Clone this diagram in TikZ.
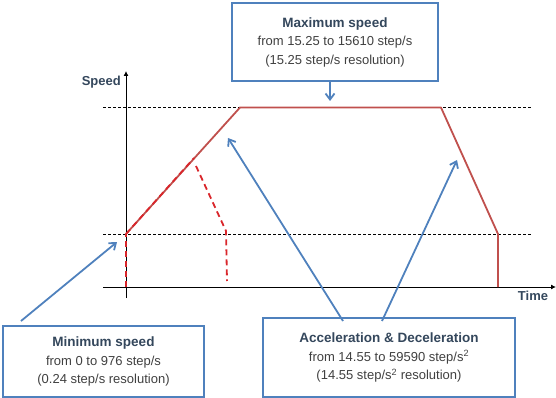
\documentclass[tikz,border=0pt]{standalone}
\usepackage{fontspec}
\setmainfont{Liberation Sans}
\usetikzlibrary{arrows.meta}
\definecolor{boxblue}{HTML}{4F81BD}
\definecolor{titlecol}{HTML}{34475C}
\definecolor{bodycol}{HTML}{404040}
\definecolor{profred}{HTML}{C0504D}
\definecolor{dashred}{HTML}{D9262B}
\tikzset{
  infobox/.style={draw=boxblue, line width=1.6pt, fill=white, align=center, inner sep=0pt,
    font=\fontsize{13}{18.5}\selectfont, text=bodycol},
  pointer/.style={draw=boxblue, line width=1.8pt, -{Straight Barb[length=6pt,width=9pt]}},
  axis/.style={draw=black, line width=0.9pt, -{Latex[length=5pt,width=5pt]}},
  level/.style={draw=black, line width=0.6pt, dash pattern=on 3pt off 2pt},
  profile/.style={draw=profred, line width=1.8pt, line join=round},
  altprofile/.style={draw=dashred, line width=1.8pt, dash pattern=on 6pt off 4pt},
  axlabel/.style={font=\fontsize{13}{15}\selectfont\bfseries, text=titlecol, inner sep=0pt},
}
\newcommand{\ttl}[1]{{\fontsize{13.5}{18.5}\selectfont\bfseries\color{titlecol}#1}}
\begin{document}
\begin{tikzpicture}[x=1pt,y=-1pt]
\useasboundingbox (0,0) rectangle (556,398);
% levels
\draw[level] (103,107.5) -- (532,107.5);
\draw[level] (103,234) -- (532,234);
% axes
\coordinate (yb) at (126,298);
\coordinate (yt) at (126,71);
\coordinate (xl) at (103,287);
\coordinate (xr) at (556,287);
\draw[axis] (yb) -- (yt);
\draw[axis] (xl) -- (xr);
\node[axlabel, anchor=east] (speedlbl) at (121,82) {Speed};
\node[axlabel] (timelbl) at (533,296) {Time};
% profile
\coordinate (p0) at (126,287);
\coordinate (p1) at (126,234);
\coordinate (p2) at (240,107.5);
\coordinate (p3) at (441,107.5);
\coordinate (p4) at (498,234);
\coordinate (p5) at (498,287);
\draw[profile] (p1) -- (p2) -- (p3) -- (p4) -- (p5);
\coordinate (q0) at (194,158);
\coordinate (q1) at (196,166);
\coordinate (q2) at (226,231);
\coordinate (q3) at (227,281);
\draw[altprofile] (p0) -- (p1);
\draw[altprofile] (p1) -- (q0);
\draw[altprofile] (q1) -- (q2) -- (q3);
% boxes
\node[infobox, minimum width=206pt, minimum height=78pt] (maxbox) at (335,42)
  {\ttl{Maximum speed}\\from 15.25 to 15610 step/s\\(15.25 step/s resolution)};
\node[infobox, minimum width=201pt, minimum height=71pt] (minbox) at (103.5,361.5)
  {\ttl{Minimum speed}\\from 0 to 976 step/s\\(0.24 step/s resolution)};
\node[infobox, minimum width=252pt, minimum height=79pt] (accbox) at (389,357.5)
  {\ttl{Acceleration \& Deceleration}\\from 14.55 to 59590 step/s\textsuperscript{2}\\(14.55 step/s\textsuperscript{2} resolution)};
% pointers
\coordinate (maxtip) at (330,101);
\coordinate (minstart) at (21,321);
\coordinate (mintip) at (117,242);
\coordinate (accstart1) at (343,321);
\coordinate (acctip1) at (228,138);
\coordinate (accstart2) at (382,321);
\coordinate (acctip2) at (457,160);
\draw[pointer] (maxbox.south -| maxtip) -- (maxtip);
\draw[pointer] (minstart) -- (mintip);
\draw[pointer] (accstart1) -- (acctip1);
\draw[pointer] (accstart2) -- (acctip2);
\end{tikzpicture}
\end{document}
